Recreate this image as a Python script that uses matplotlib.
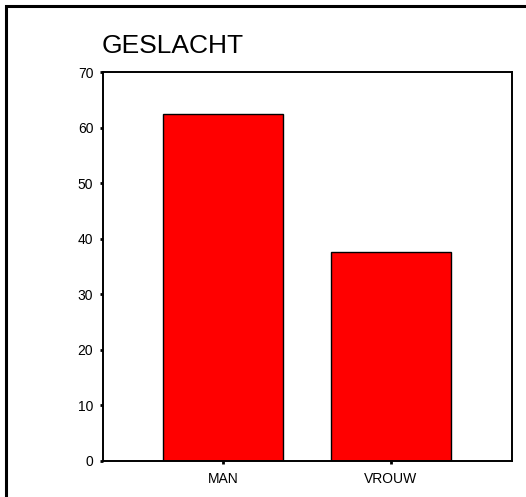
import matplotlib.pyplot as plt
from matplotlib.patches import Rectangle

# Waarden uit de grafiek
categorieen = ['MAN', 'VROUW']
percentages = [62.4, 37.6]
y_ticks = [0, 10, 20, 30, 40, 50, 60, 70]

plt.rcParams['font.family'] = ['Liberation Sans', 'DejaVu Sans']

W, H = 526, 497
fig = plt.figure(figsize=(W / 100, H / 100), dpi=100)

# buitenrand
fig.patches.append(Rectangle((6 / W, -0.05), 1.2, 1 - 6 / H + 0.05, transform=fig.transFigure,
                             fill=False, edgecolor='black', linewidth=2.2))

ax = fig.add_axes([103 / W, 1 - 461 / H, (512 - 103) / W, (461 - 72) / H])
x = range(len(categorieen))
ax.bar(x, percentages, width=0.71, color='#ff0000', edgecolor='black', linewidth=1.0)

ax.set_xlim(-0.714, 1.72)
ax.set_ylim(0, 70)
ax.set_yticks(y_ticks)
ax.set_xticks(list(x))
ax.set_xticklabels(categorieen)
for s in ax.spines.values():
    s.set_linewidth(1.4)
ax.tick_params(axis='y', length=2.5, width=2, direction='out', pad=4.5, labelsize=10)
ax.tick_params(axis='x', length=2.5, width=2, direction='out', pad=5.5, labelsize=10)

fig.text(102 / W, 1 - 53 / H, 'GESLACHT', fontsize=19, ha='left', va='baseline')

fig.savefig('out.png', dpi=100)
